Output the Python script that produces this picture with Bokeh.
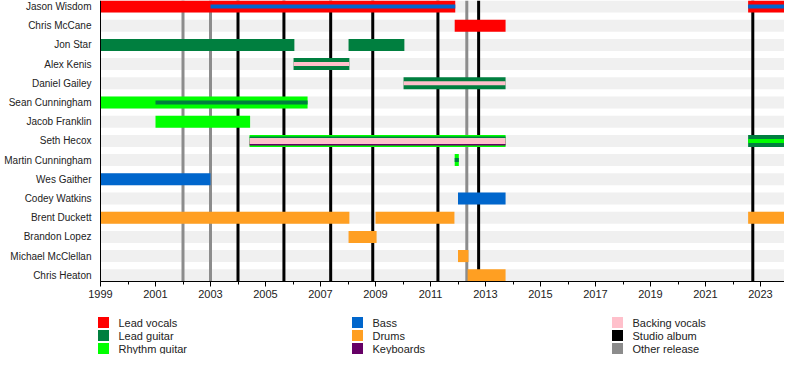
from bokeh.plotting import figure
from bokeh.models import Range1d, FixedTicker, ColumnDataSource
from bokeh.core.properties import value
from bokeh.embed import file_html
from bokeh.resources import INLINE

# ---------------- data ----------------
members = ["Jason Wisdom", "Chris McCane", "Jon Star", "Alex Kenis", "Daniel Gailey",
           "Sean Cunningham", "Jacob Franklin", "Seth Hecox", "Martin Cunningham",
           "Wes Gaither", "Codey Watkins", "Brent Duckett", "Brandon Lopez",
           "Michael McClellan", "Chris Heaton"]

# primary roles (full-height bars)
main_member = ["Jason Wisdom", "Jason Wisdom", "Chris McCane", "Jon Star", "Jon Star",
               "Alex Kenis", "Daniel Gailey", "Sean Cunningham", "Jacob Franklin",
               "Seth Hecox", "Seth Hecox", "Martin Cunningham", "Wes Gaither",
               "Codey Watkins", "Brent Duckett", "Brent Duckett", "Brent Duckett",
               "Brandon Lopez", "Michael McClellan", "Chris Heaton"]
main_role = ["Lead vocals", "Lead vocals", "Lead vocals", "Lead guitar", "Lead guitar",
             "Lead guitar", "Lead guitar", "Rhythm guitar", "Rhythm guitar",
             "Rhythm guitar", "Lead guitar", "Rhythm guitar", "Bass",
             "Bass", "Drums", "Drums", "Drums",
             "Drums", "Drums", "Drums"]
main_start = [1999.0, 2022.55, 2011.88, 1999.0, 2008.02,
              2006.02, 2010.02, 1999.0, 2001.0,
              2004.42, 2022.55, 2011.88, 1999.0,
              2012.0, 1999.0, 2009.0, 2022.55,
              2008.02, 2012.0, 2012.35]
main_end = [2011.9, 2024.1, 2013.73, 2006.05, 2010.05,
            2008.05, 2013.73, 2006.53, 2004.44,
            2013.73, 2024.1, 2012.03, 2003.0,
            2013.73, 2008.05, 2011.87, 2024.1,
            2009.04, 2012.38, 2013.73]

# secondary roles (thin stripes inside the bars)
sec_member = ["Jason Wisdom", "Jason Wisdom", "Alex Kenis", "Daniel Gailey",
              "Sean Cunningham", "Seth Hecox", "Seth Hecox", "Seth Hecox",
              "Seth Hecox", "Martin Cunningham"]
sec_role = ["Bass", "Bass", "Backing vocals", "Backing vocals",
            "Lead guitar", "Lead guitar", "Keyboards", "Backing vocals",
            "Rhythm guitar", "Lead guitar"]
sec_start = [2003.0, 2022.55, 2006.02, 2010.02,
             2001.0, 2004.42, 2004.42, 2004.42,
             2022.55, 2011.88]
sec_end = [2011.9, 2024.1, 2008.05, 2013.73,
           2006.53, 2013.73, 2013.73, 2013.73,
           2024.1, 2012.03]

studio_albums = [2004.0, 2005.67, 2007.37, 2008.9, 2011.27, 2012.75, 2022.72]
other_releases = [2002.0, 2003.0, 2012.32]

legend_labels = ["Lead vocals", "Lead guitar", "Rhythm guitar", "Bass", "Drums",
                 "Keyboards", "Backing vocals", "Studio album", "Other release"]

year_min, year_max = 1999.0, 2024.1
major_years = list(range(1999, 2024, 2))
minor_years = list(range(1999, 2025))

# ---------------- layout / styles ----------------
colors = {"Lead vocals": "#FF0000", "Lead guitar": "#007F3F", "Rhythm guitar": "#00FF00",
          "Bass": "#0066CC", "Drums": "#FF9F22", "Keyboards": "#660066",
          "Backing vocals": "#FFC0CB", "Studio album": "#000000", "Other release": "#8C8C8C"}
FONT = "Liberation Sans"
W, H = 784, 354
PX_PER_YEAR = 27.5
FRAME_LEFT = 100          # pixel position of the time axis start
ROW0, ROW_STEP = 6.0, 19.2  # pixel centre of first row, row spacing
AXIS_Y_PX = 281.0

def yrow(px):
    return (px - ROW0) / ROW_STEP

def xyear(px):
    return year_min + (px - FRAME_LEFT) / PX_PER_YEAR

top_y = yrow(0)
axis_y = yrow(AXIS_Y_PX)
u = 1.0 / ROW_STEP  # row units per pixel

p = figure(width=W, height=H, output_backend="svg", toolbar_location=None,
           x_range=Range1d(xyear(0), xyear(W)),
           y_range=Range1d(yrow(H), yrow(0)),
           min_border=0, min_border_left=0, min_border_right=0,
           min_border_top=0, min_border_bottom=0)
p.outline_line_color = None
p.xgrid.visible = False
p.ygrid.visible = False
p.background_fill_color = "white"
p.border_fill_color = "white"

idx = {m: i for i, m in enumerate(members)}

# row bands
p.hbar(y=list(range(len(members))), left=year_min, right=year_max, height=12 * u,
       fill_color="#F0F0F0", line_color=None)

# release lines
p.segment(x0=other_releases, x1=other_releases, y0=top_y, y1=axis_y,
          line_color=colors["Other release"], line_width=3)
p.segment(x0=studio_albums, x1=studio_albums, y0=top_y, y1=axis_y,
          line_color=colors["Studio album"], line_width=3)

# main bars
src = ColumnDataSource(dict(y=[idx[m] for m in main_member], left=main_start, right=main_end,
                            color=[colors[r] for r in main_role]))
p.hbar(y="y", left="left", right="right", height=12 * u, fill_color="color",
       line_color=None, source=src)

# secondary stripes
groups = {}
for m, r, s, e in zip(sec_member, sec_role, sec_start, sec_end):
    groups.setdefault((m, s, e), []).append(r)
layouts = {1: [(0.0, 4.0)], 3: [(-2.25, 4.5), (2.25, 4.5), (0.0, 6.0)]}
sy, sl, sr, sh, sc = [], [], [], [], []
for (m, s, e), roles in groups.items():
    lay = layouts.get(len(roles), [(0.0, 4.0)] * len(roles))
    for r, (off, h) in zip(roles, lay):
        sy.append(idx[m] + off * u)
        sl.append(s)
        sr.append(e)
        sh.append(h * u)
        sc.append(colors[r])
p.hbar(y=sy, left=sl, right=sr, height=sh, fill_color=sc, line_color=None)

# axes (placed inside the full-canvas frame)
xa = p.xaxis[0]
xa.fixed_location = axis_y
xa.bounds = (year_min, year_max)
xa.ticker = FixedTicker(ticks=major_years, minor_ticks=minor_years)
xa.axis_line_color = "black"
xa.major_tick_in = 0
xa.major_tick_out = 5
xa.minor_tick_in = 0
xa.minor_tick_out = 3
xa.major_tick_line_color = "black"
xa.minor_tick_line_color = "black"
xa.major_label_standoff = 3
xa.major_label_text_font = FONT
xa.major_label_text_font_size = "11px"
xa.major_label_text_color = "#222222"

ya = p.yaxis[0]
ya.fixed_location = year_min
ya.bounds = (top_y, axis_y)
ya.ticker = FixedTicker(ticks=list(range(len(members))))
ya.major_label_overrides = {i: m for i, m in enumerate(members)}
ya.axis_line_color = "black"
ya.major_tick_in = 0
ya.major_tick_out = 0
ya.minor_tick_line_color = None
ya.major_label_standoff = 9
ya.major_label_text_font = FONT
ya.major_label_text_font_size = "10px"
ya.major_label_text_color = "#222222"

# legend (3 columns x 3 rows)
col_px = [103, 357, 617]
row_px = [322, 335, 348]
lx, ly, lc, tx = [], [], [], []
for i, lab in enumerate(legend_labels):
    cx = col_px[i // 3]
    lx.append(xyear(cx))
    tx.append(xyear(cx + 15))
    ly.append(yrow(row_px[i % 3]))
    lc.append(colors[lab])
p.rect(x=lx, y=ly, width=11, height=11, width_units="screen", height_units="screen",
       fill_color=lc, line_color=None)
p.text(x=tx, y=ly, text=legend_labels, text_font=value(FONT),
       text_font_size="11px", text_baseline="middle", text_align="left",
       text_color="#222222")

open("out.html", "w").write(file_html(p, INLINE))
